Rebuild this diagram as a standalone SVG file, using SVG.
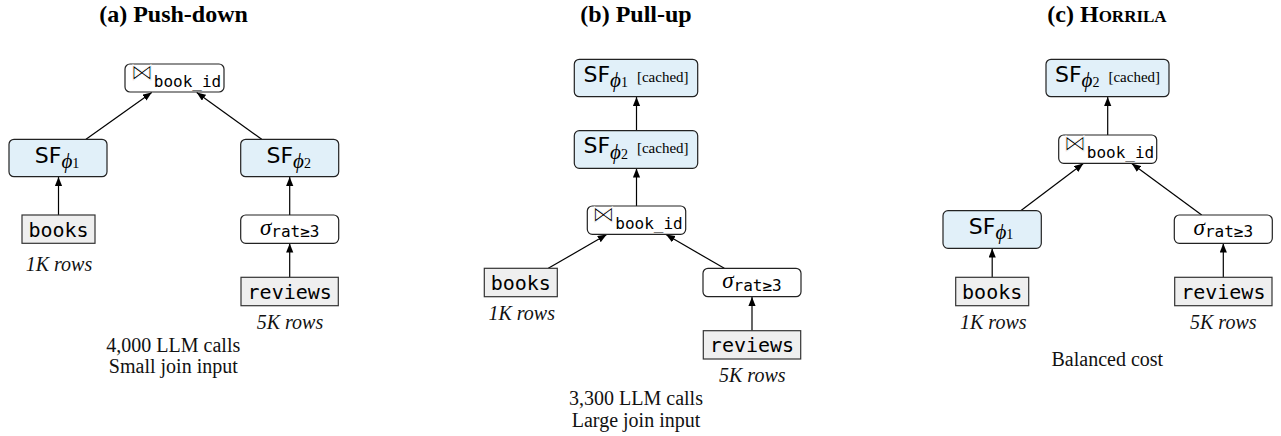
<svg xmlns="http://www.w3.org/2000/svg" width="1281" height="436" viewBox="0 0 1281 436">
<defs>
<marker id="ah" markerUnits="userSpaceOnUse" markerWidth="10" markerHeight="8" refX="9" refY="3.6" orient="auto">
<path d="M0,0 L9,3.6 L0,7.2 z" fill="#000"/>
</marker>
<style>
.title{font-family:"Liberation Serif",serif;font-weight:bold;font-size:24px;text-anchor:middle;fill:#000}
.cap{font-family:"Liberation Serif",serif;font-size:20px;text-anchor:middle;fill:#111}
.rows{font-family:"Liberation Serif",serif;font-style:italic;font-size:20px;text-anchor:middle;fill:#111}
.op{fill:#fff;stroke:#222;stroke-width:1.2}
.sfbox{fill:#e1f0f9;stroke:#222;stroke-width:1.2}
.tbl{fill:#efefef;stroke:#333;stroke-width:1.2}
.lbl{text-anchor:middle;fill:#000}
.sf{font-family:"DejaVu Sans",sans-serif;font-size:22px}
.phi{font-family:"Liberation Serif","DejaVu Serif",serif;font-style:italic;font-size:21px}
.idx{font-family:"Liberation Serif",serif;font-size:14px}
.cached{font-family:"Liberation Serif",serif;font-size:15px}
.mono{font-family:"DejaVu Sans Mono",monospace;font-size:16px}
.tbltxt{font-family:"DejaVu Sans Mono",monospace;font-size:20px;text-anchor:middle;fill:#000}
.bowtie{font-family:"DejaVu Sans",sans-serif;font-size:23px;stroke:#fff;stroke-width:0.9}
.sigma{font-family:"Liberation Serif",serif;font-style:italic;font-size:23px}
.edge{stroke:#000;stroke-width:1.2;fill:none;marker-end:url(#ah)}
</style>
</defs>
<rect width="1281" height="436" fill="#fff"/>

<!-- Titles and captions -->
<text class="title" x="173.5" y="22">(a) Push-down</text>
<text class="title" x="636" y="22">(b) Pull-up</text>
<text class="title" x="1107" y="22">(c) <tspan style="font-variant:small-caps">Horrila</tspan></text>

<text class="rows" x="59" y="271">1K rows</text>
<text class="rows" x="290" y="329.3">5K rows</text>
<text class="cap" x="173.3" y="351.7">4,000 LLM calls</text>
<text class="cap" x="173.3" y="373.3">Small join input</text>

<text class="rows" x="521.7" y="320">1K rows</text>
<text class="rows" x="752.3" y="382.3">5K rows</text>
<text class="cap" x="636" y="405">3,300 LLM calls</text>
<text class="cap" x="636" y="426.7">Large join input</text>

<text class="rows" x="993.3" y="329.3">1K rows</text>
<text class="rows" x="1223.3" y="329.3">5K rows</text>
<text class="cap" x="1107.3" y="365.7">Balanced cost</text>

<!-- Connectors -->
<g id="connectors">
<line class="edge" x1="86" y1="139.3" x2="151.7" y2="92.4"/>
<line class="edge" x1="261.7" y1="139.3" x2="196.7" y2="92.4"/>
<line class="edge" x1="58.5" y1="215" x2="58.5" y2="177"/>
<line class="edge" x1="289.7" y1="215" x2="289.7" y2="177"/>
<line class="edge" x1="289.7" y1="277.3" x2="289.7" y2="243.6"/>

<line class="edge" x1="636.5" y1="130.7" x2="636.5" y2="97"/>
<line class="edge" x1="636.5" y1="206" x2="636.5" y2="168.6"/>
<line class="edge" x1="548.3" y1="268.3" x2="606.7" y2="234.6"/>
<line class="edge" x1="724.3" y1="268.3" x2="666" y2="234.6"/>
<line class="edge" x1="752" y1="330.7" x2="752" y2="297"/>

<line class="edge" x1="1107.7" y1="135" x2="1107.7" y2="97"/>
<line class="edge" x1="1020.7" y1="210.7" x2="1083.3" y2="163.6"/>
<line class="edge" x1="1201.7" y1="215" x2="1131.7" y2="163.6"/>
<line class="edge" x1="992.2" y1="277.3" x2="992.2" y2="248.6"/>
<line class="edge" x1="1223.3" y1="277.3" x2="1223.3" y2="243.6"/>
</g>

<!-- Panel (a) nodes -->
<g id="a-join">
<rect class="op" x="125" y="64" width="99" height="28" rx="5"/>
<text class="lbl" x="176" y="80"><tspan class="bowtie">⋈</tspan><tspan class="mono" dy="6.5">book_id</tspan></text>
</g>
<g id="a-sf1">
<rect class="sfbox" x="9" y="139.3" width="98" height="37.4" rx="5"/>
<text class="lbl" x="57" y="162.5"><tspan class="sf">SF</tspan><tspan class="phi" dy="5.5">ϕ</tspan><tspan class="idx">1</tspan></text>
</g>
<g id="a-sf2">
<rect class="sfbox" x="240.7" y="139.3" width="98" height="37.4" rx="5"/>
<text class="lbl" x="288.7" y="162.5"><tspan class="sf">SF</tspan><tspan class="phi" dy="5.5">ϕ</tspan><tspan class="idx">2</tspan></text>
</g>
<g id="a-books">
<rect class="tbl" x="22" y="215" width="73" height="28.3"/>
<text class="tbltxt" x="58.5" y="236.7">books</text>
</g>
<g id="a-sigma">
<rect class="op" x="240.7" y="215" width="98" height="28.3" rx="5"/>
<text class="lbl" x="289.7" y="235"><tspan class="sigma">σ</tspan><tspan class="mono" dy="2.3">rat≥3</tspan></text>
</g>
<g id="a-reviews">
<rect class="tbl" x="241" y="277.3" width="97.3" height="28.4"/>
<text class="tbltxt" x="289.7" y="299">reviews</text>
</g>

<!-- Panel (b) nodes -->
<g id="b-sf1">
<rect class="sfbox" x="574.3" y="59.3" width="123.4" height="37.4" rx="5"/>
<text class="lbl" x="636" y="81.8"><tspan class="sf">SF</tspan><tspan class="phi" dy="5.5">ϕ</tspan><tspan class="idx">1</tspan><tspan class="cached" dx="9" dy="-5.5">[cached]</tspan></text>
</g>
<g id="b-sf2">
<rect class="sfbox" x="574.3" y="130.7" width="123.4" height="37.6" rx="5"/>
<text class="lbl" x="636" y="153.3"><tspan class="sf">SF</tspan><tspan class="phi" dy="5.5">ϕ</tspan><tspan class="idx">2</tspan><tspan class="cached" dx="9" dy="-5.5">[cached]</tspan></text>
</g>
<g id="b-join">
<rect class="op" x="587.3" y="206" width="98.4" height="28.3" rx="5"/>
<text class="lbl" x="637.5" y="222"><tspan class="bowtie">⋈</tspan><tspan class="mono" dy="6.5">book_id</tspan></text>
</g>
<g id="b-books">
<rect class="tbl" x="484.3" y="268.3" width="73" height="28.4"/>
<text class="tbltxt" x="520.8" y="290">books</text>
</g>
<g id="b-sigma">
<rect class="op" x="703" y="268.3" width="98" height="28.4" rx="5"/>
<text class="lbl" x="752" y="288.3"><tspan class="sigma">σ</tspan><tspan class="mono" dy="2.3">rat≥3</tspan></text>
</g>
<g id="b-reviews">
<rect class="tbl" x="703.3" y="330.7" width="97.4" height="28.3"/>
<text class="tbltxt" x="752" y="352.4">reviews</text>
</g>

<!-- Panel (c) nodes -->
<g id="c-sf2">
<rect class="sfbox" x="1046" y="59.3" width="123" height="37.4" rx="5"/>
<text class="lbl" x="1107.5" y="81.8"><tspan class="sf">SF</tspan><tspan class="phi" dy="5.5">ϕ</tspan><tspan class="idx">2</tspan><tspan class="cached" dx="9" dy="-5.5">[cached]</tspan></text>
</g>
<g id="c-join">
<rect class="op" x="1058.7" y="135" width="98" height="28.3" rx="5"/>
<text class="lbl" x="1109" y="151"><tspan class="bowtie">⋈</tspan><tspan class="mono" dy="6.5">book_id</tspan></text>
</g>
<g id="c-sf1">
<rect class="sfbox" x="943" y="210.7" width="98.3" height="37.6" rx="5"/>
<text class="lbl" x="991" y="233.9"><tspan class="sf">SF</tspan><tspan class="phi" dy="5.5">ϕ</tspan><tspan class="idx">1</tspan></text>
</g>
<g id="c-sigma">
<rect class="op" x="1174.3" y="215" width="98" height="28.3" rx="5"/>
<text class="lbl" x="1223.3" y="235"><tspan class="sigma">σ</tspan><tspan class="mono" dy="2.3">rat≥3</tspan></text>
</g>
<g id="c-books">
<rect class="tbl" x="955.7" y="277.3" width="73" height="28.4"/>
<text class="tbltxt" x="992.2" y="299">books</text>
</g>
<g id="c-reviews">
<rect class="tbl" x="1174.7" y="277.3" width="97.3" height="28.4"/>
<text class="tbltxt" x="1223.3" y="299">reviews</text>
</g>
</svg>
